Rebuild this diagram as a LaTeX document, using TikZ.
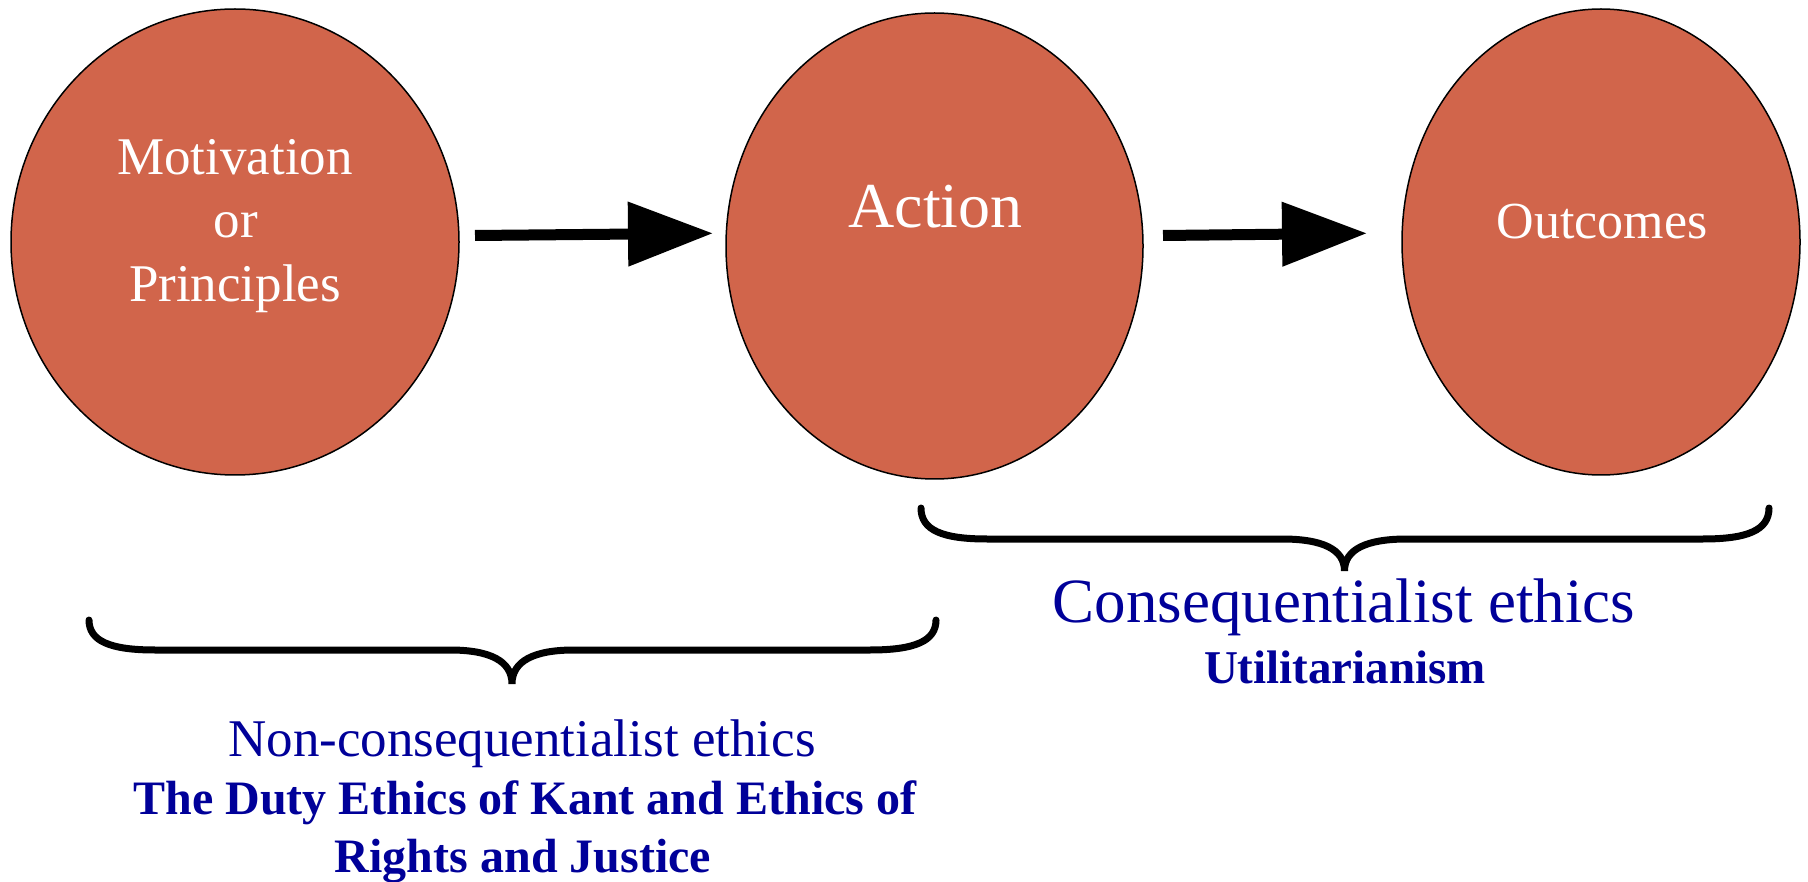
\documentclass[tikz,border=0pt]{standalone}
\usepackage{fontspec}
\setmainfont{Liberation Serif}
\usetikzlibrary{shapes.geometric,arrows.meta}
\definecolor{ovalfill}{RGB}{209,101,75}
\definecolor{labelblue}{RGB}{0,0,153}
\begin{document}
\begin{tikzpicture}[x=1pt,y=-1pt,
  oval/.style={ellipse,draw=black,line width=1.5pt,fill=ovalfill,inner sep=0pt,outer sep=0pt},
  intext/.style={text=white,anchor=base,inner sep=0pt},
  arr/.style={line width=11pt,-{Triangle[length=85pt,width=62pt]}},
  brace/.style={line width=7pt,line cap=round},
  btxt/.style={text=labelblue,anchor=base,inner sep=0pt}]
\useasboundingbox (0,0) rectangle (1808,882);
\node[oval,minimum width=448pt,minimum height=466pt] (mot) at (235,242) {};
\node[oval,minimum width=417pt,minimum height=466pt] (act) at (934.5,246) {};
\node[oval,minimum width=398pt,minimum height=466pt] (out) at (1601,242) {};
\node[intext,font=\fontsize{53}{64}\selectfont] (t1) at (235,175) {Motivation};
\node[intext,font=\fontsize{53}{64}\selectfont] (t2) at (236,238) {or};
\node[intext,font=\fontsize{53}{64}\selectfont] (t3) at (235,302) {Principles};
\node[intext,font=\fontsize{64}{72}\selectfont] (t4) at (935.5,228) {Action};
\node[intext,font=\fontsize{52}{60}\selectfont] (t5) at (1602,239) {Outcomes};
\draw[arr] ([xshift=16pt,yshift=6.5pt]mot.east) -- ([xshift=-13pt,yshift=12.7pt]act.west);
\draw[arr] ([xshift=20pt,yshift=10.5pt]act.east) -- ([xshift=-35pt,yshift=8.7pt]out.west);
\draw[brace] (89,620) .. controls (89,641) and (110,650) .. (155,650) -- (450,650) .. controls (490,650) and (512,661) .. (512,684) .. controls (512,661) and (534,650) .. (574,650) -- (870,650) .. controls (915,650) and (936,641) .. (936,620);
\draw[brace] (921,508) .. controls (921,530) and (942,539) .. (987,539) -- (1282,539) .. controls (1322,539) and (1344.5,549) .. (1344.5,571) .. controls (1344.5,549) and (1367,539) .. (1407,539) -- (1703,539) .. controls (1748,539) and (1769,530) .. (1769,508);
\node[btxt,font=\fontsize{53}{60}\selectfont] (n1) at (522,756) {Non-consequentialist ethics};
\node[btxt,font=\bfseries\fontsize{48}{58}\selectfont] (n2) at (525,814) {The Duty Ethics of Kant and Ethics of};
\node[btxt,font=\bfseries\fontsize{48}{58}\selectfont] (n3) at (523,872) {Rights and Justice};
\node[btxt,font=\fontsize{63}{70}\selectfont] (c1) at (1344,622) {Consequentialist ethics};
\node[btxt,font=\bfseries\fontsize{47}{56}\selectfont] (c2) at (1345,683) {Utilitarianism};
\end{tikzpicture}
\end{document}
